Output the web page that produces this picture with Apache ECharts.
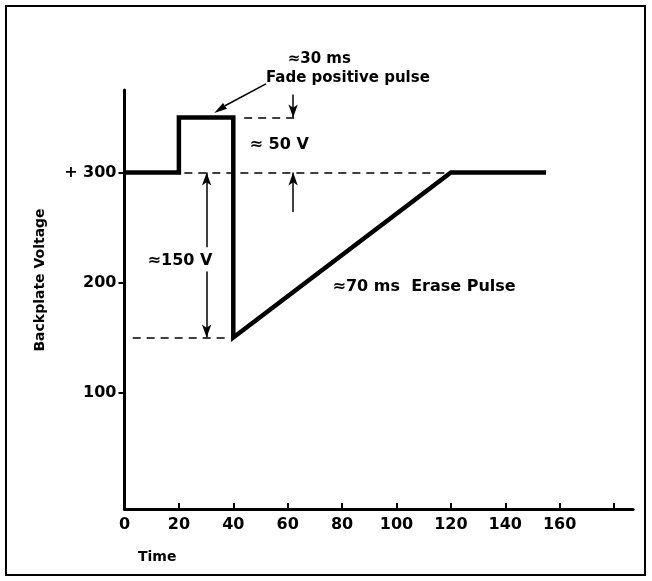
<!DOCTYPE html>
<html>
<head>
<meta charset="utf-8">
<script src="https://cdn.jsdelivr.net/npm/echarts@6/dist/echarts.min.js"></script>
<style>
  html, body { margin: 0; padding: 0; background: #fff; }
  #chart { width: 652px; height: 581px; }
</style>
</head>
<body>
<div id="chart"></div>
<script>
// Backplate voltage waveform: fade pulse followed by erase ramp
const timeMs  = [0, 20, 20, 40, 40, 120, 155];
const voltage = [300, 300, 350, 350, 150, 300, 300];

const xTickValues  = [20, 40, 60, 80, 100, 120, 140, 160, 180];
const xLabelValues = [0, 20, 40, 60, 80, 100, 120, 140, 160];
const yTickValues  = [100, 200, 300];

// Reference levels (dashed guides), in data units: [x0, x1, y]
const guideLines = [
  [44, 64, 350],
  [22, 121, 300],
  [3, 37, 150]
];

// Dimension arrows, in data units: [xFrom, yFrom, xTo, yTo]
const arrows = [
  [30.2, 232, 30.2, 300],
  [30.2, 210, 30.2, 150],
  [62, 371, 62, 350],
  [62, 264, 62, 300]
];

// Leader arrow from the pulse caption down to the pulse top: [xFrom, yFrom, xTo, yTo]
const leader = [52, 386, 33, 354];

// Annotation texts, anchored (left, middle) in data units
const notes = [
  { text: '\u224830 ms', x: 60, y: 403, size: 15 },
  { text: 'Fade positive pulse', x: 52, y: 386, size: 15 },
  { text: '\u2248 50 V', x: 46, y: 325, size: 16 },
  { text: '\u2248150 V', x: 8.5, y: 220, size: 16 },
  { text: '\u224870 ms  Erase Pulse', x: 76.5, y: 196, size: 16 }
];

const FONT = '"DejaVu Sans", "Liberation Sans", sans-serif';

const chart = echarts.init(document.getElementById('chart'), null, { renderer: 'canvas' });

const markLineData = [];
guideLines.forEach(g => {
  markLineData.push([
    { coord: [g[0], g[2]], symbol: 'none', lineStyle: { type: [8, 6], width: 1.5, color: '#000' } },
    { coord: [g[1], g[2]], symbol: 'none' }
  ]);
});
arrows.forEach(a => {
  markLineData.push([
    { coord: [a[0], a[1]], symbol: 'none', lineStyle: { type: 'solid', width: 1.5, color: '#000' } },
    { coord: [a[2], a[3]], symbol: 'arrow', symbolSize: [7, 13] }
  ]);
});

chart.setOption({
  animation: false,
  backgroundColor: '#fff',
  grid: { left: 124.5, top: 90, width: 508.6, height: 419.1, containLabel: false },
  xAxis: {
    type: 'value',
    min: 0,
    max: 187,
    axisLine: { onZero: false, lineStyle: { color: '#000', width: 3 } },
    axisTick: { inside: true, length: 6, lineStyle: { color: '#000', width: 2 }, customValues: xTickValues },
    axisLabel: { customValues: xLabelValues, color: '#000', fontFamily: FONT, fontWeight: 'bold', fontSize: 16, margin: 8 },
    splitLine: { show: false }
  },
  yAxis: {
    type: 'value',
    min: -6,
    max: 375,
    axisLine: { show: true, onZero: false, lineStyle: { color: '#000', width: 3 } },
    axisTick: { show: true, length: 6, lineStyle: { color: '#000', width: 2 }, customValues: yTickValues },
    axisLabel: {
      customValues: yTickValues,
      color: '#000', fontFamily: FONT, fontWeight: 'bold', fontSize: 16, margin: 8,
      formatter: v => (v === 300 ? '+ 300' : String(v))
    },
    splitLine: { show: false }
  },
  series: [{
    type: 'line',
    data: timeMs.map((t, i) => [t, voltage[i]]),
    symbol: 'none',
    lineStyle: { color: '#000', width: 4.5, join: 'miter', cap: 'butt' },
    z: 5,
    markLine: {
      silent: true,
      symbol: 'none',
      label: { show: false },
      emphasis: { disabled: true },
      data: markLineData
    }
  }]
});

// Frame, axis titles, leader arrow and annotation text
function place() {
  const toPx = (x, y) => chart.convertToPixel({ gridIndex: 0 }, [x, y]);
  const g = [
    { type: 'rect', shape: { x: 6, y: 6, width: 639, height: 569 }, style: { fill: 'none', stroke: '#000', lineWidth: 2 }, silent: true },
    { type: 'text', x: 40, y: 280, rotation: Math.PI / 2, style: { text: 'Backplate Voltage', fontFamily: FONT, fontWeight: 'bold', fontSize: 14, fill: '#000', align: 'center', verticalAlign: 'middle' } },
    { type: 'text', x: 138, y: 557, style: { text: 'Time', fontFamily: FONT, fontWeight: 'bold', fontSize: 14, fill: '#000', align: 'left', verticalAlign: 'middle' } }
  ];

  // leader arrow: shaft plus filled head
  const a = toPx(leader[0], leader[1]);
  const b = toPx(leader[2], leader[3]);
  const dx = b[0] - a[0], dy = b[1] - a[1];
  const len = Math.hypot(dx, dy), ux = dx / len, uy = dy / len;
  const headL = 13, headW = 3.5;
  const base = [b[0] - ux * headL, b[1] - uy * headL];
  g.push({ type: 'line', shape: { x1: a[0], y1: a[1] + 6, x2: base[0], y2: base[1] }, style: { stroke: '#000', lineWidth: 1.5 } });
  g.push({ type: 'polygon', shape: { points: [b, [base[0] - uy * headW, base[1] + ux * headW], [base[0] + uy * headW, base[1] - ux * headW]] }, style: { fill: '#000' } });

  notes.forEach(n => {
    const p = toPx(n.x, n.y);
    g.push({ type: 'text', x: p[0], y: p[1], style: { text: n.text, fontFamily: FONT, fontWeight: 'bold', fontSize: n.size, fill: '#000', align: 'left', verticalAlign: 'middle' } });
  });
  chart.setOption({ graphic: g });
}
place();
</script>
</body>
</html>
